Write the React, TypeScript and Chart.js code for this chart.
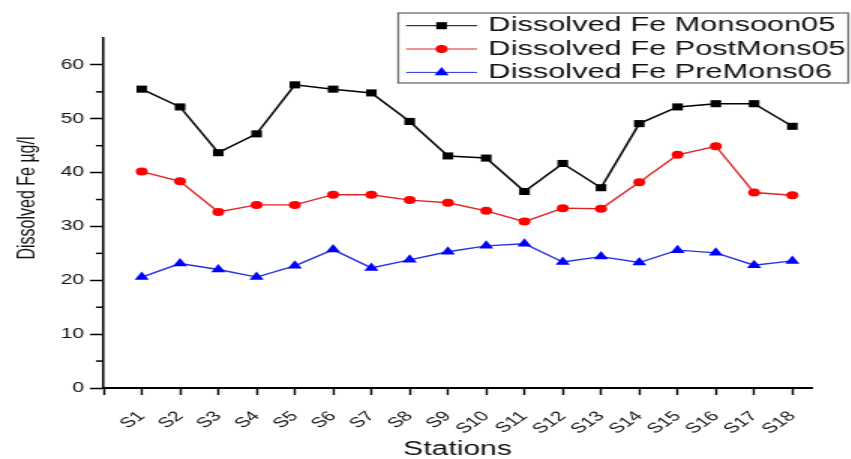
import React, { useEffect, useRef } from 'react';
import { Chart, registerables } from 'chart.js';

Chart.register(...registerables);

const stations = ['S1', 'S2', 'S3', 'S4', 'S5', 'S6', 'S7', 'S8', 'S9', 'S10', 'S11', 'S12', 'S13', 'S14', 'S15', 'S16', 'S17', 'S18'];
const monsoon05 = [55.5, 52.2, 43.7, 47.2, 56.3, 55.5, 54.8, 49.5, 43.1, 42.7, 36.5, 41.7, 37.2, 49.1, 52.2, 52.8, 52.8, 48.6];
const postMons05 = [40.2, 38.4, 32.7, 34.0, 34.0, 35.9, 35.9, 34.9, 34.4, 32.9, 30.9, 33.4, 33.3, 38.2, 43.3, 44.9, 36.3, 35.8];
const preMons06 = [20.6, 23.1, 22.0, 20.6, 22.7, 25.7, 22.3, 23.8, 25.3, 26.4, 26.8, 23.4, 24.4, 23.3, 25.6, 25.1, 22.8, 23.6];
const yMajorTicks = [0, 10, 20, 30, 40, 50, 60];
const yMinorTicks = [5, 15, 25, 35, 45, 55];
const seriesNames = ['Dissolved Fe Monsoon05', 'Dissolved Fe PostMons05', 'Dissolved Fe PreMons06'];
const yTitle = 'Dissolved Fe µg/l';
const xTitle = 'Stations';

const FONT = '"Liberation Sans", Arial, sans-serif';
const STRETCH = 1.5;
const CW = 567;
const CH = 459;

function drawMarker(ctx: CanvasRenderingContext2D, style: string, x: number, y: number, r: number, color: string) {
  ctx.fillStyle = color;
  ctx.beginPath();
  if (style === 'rect') {
    const s = r * Math.SQRT1_2;
    ctx.rect(x - s, y - s, 2 * s, 2 * s);
  } else if (style === 'circle') {
    ctx.arc(x, y, r, 0, Math.PI * 2);
  } else {
    ctx.moveTo(x, y - r);
    ctx.lineTo(x + r * Math.sin(Math.PI * 2 / 3), y - r * Math.cos(Math.PI * 2 / 3));
    ctx.lineTo(x + r * Math.sin(Math.PI * 4 / 3), y - r * Math.cos(Math.PI * 4 / 3));
    ctx.closePath();
  }
  ctx.fill();
}

const extrasPlugin = {
  id: 'extras',
  afterDraw(chart: any) {
    const ctx: CanvasRenderingContext2D = chart.ctx;
    const yScale = chart.scales.y;
    const left = chart.chartArea.left;
    ctx.save();
    // minor ticks on y axis
    ctx.strokeStyle = '#000';
    ctx.lineWidth = 1.5;
    yMinorTicks.forEach((v) => {
      const py = yScale.getPixelForValue(v);
      ctx.beginPath();
      ctx.moveTo(left - 5, py);
      ctx.lineTo(left, py);
      ctx.stroke();
    });
    // y axis title
    ctx.save();
    ctx.translate(18.3, 198);
    ctx.rotate(-Math.PI / 2);
    ctx.fillStyle = '#111';
    ctx.font = `16px ${FONT}`;
    ctx.textAlign = 'center';
    ctx.textBaseline = 'middle';
    ctx.fillText(yTitle, 0, 0);
    ctx.restore();
    // legend box
    const bx = 265.5, by = 13, bw = 300, bh = 70;
    ctx.fillStyle = '#fff';
    ctx.fillRect(bx, by, bw, bh);
    ctx.strokeStyle = '#6e6e6e';
    ctx.lineWidth = 1.3;
    ctx.strokeRect(bx, by, bw, bh);
    const rowsY = [25.7, 49, 72.4];
    chart.data.datasets.forEach((ds: any, i: number) => {
      const y = rowsY[i];
      ctx.strokeStyle = ds.borderColor;
      ctx.lineWidth = 1;
      ctx.beginPath();
      ctx.moveTo(270.7, y);
      ctx.lineTo(318, y);
      ctx.stroke();
      drawMarker(ctx, ds.pointStyle, 294.4, y, ds.pointRadius, ds.pointBackgroundColor);
      ctx.fillStyle = '#111';
      ctx.font = `20.5px ${FONT}`;
      ctx.textBaseline = 'middle';
      ctx.textAlign = 'left';
      ctx.fillText(seriesNames[i], 325.6, y);
    });
    ctx.restore();
  },
};

export default function App() {
  const ref = useRef<HTMLCanvasElement>(null);

  useEffect(() => {
    const canvas = ref.current;
    if (!canvas) return;
    const toPts = (arr: number[]) => arr.map((v, i) => ({ x: i + 1, y: v }));
    const chart = new Chart(canvas, {
      type: 'line',
      data: {
        datasets: [
          {
            label: seriesNames[0],
            data: toPts(monsoon05),
            borderColor: '#000000',
            backgroundColor: '#000000',
            pointBackgroundColor: '#000000',
            pointBorderColor: '#000000',
            pointStyle: 'rect',
            pointRadius: 5,
            pointBorderWidth: 0,
            borderWidth: 1.5,
            tension: 0,
          },
          {
            label: seriesNames[1],
            data: toPts(postMons05),
            borderColor: '#e02424',
            backgroundColor: '#ff0000',
            pointBackgroundColor: '#ff0000',
            pointBorderColor: '#ff0000',
            pointStyle: 'circle',
            pointRadius: 4,
            pointBorderWidth: 0,
            borderWidth: 1.4,
            tension: 0,
          },
          {
            label: seriesNames[2],
            data: toPts(preMons06),
            borderColor: '#2433e0',
            backgroundColor: '#0000ff',
            pointBackgroundColor: '#0000ff',
            pointBorderColor: '#0000ff',
            pointStyle: 'triangle',
            pointRadius: 5.5,
            pointBorderWidth: 0,
            borderWidth: 1.4,
            tension: 0,
          },
        ],
      } as any,
      options: {
        responsive: false,
        animation: false,
        devicePixelRatio: 1,
        layout: { padding: { left: 0, top: 38, right: 26, bottom: 0 } },
        plugins: {
          legend: { display: false },
          tooltip: { enabled: false },
          title: { display: false },
        },
        scales: {
          x: {
            type: 'linear',
            min: 0,
            max: 18.5,
            afterBuildTicks: (scale: any) => {
              scale.ticks = [0, ...stations.map((_, i) => i + 1)].map((v) => ({ value: v }));
            },
            afterFit: (scale: any) => {
              scale.height = 71;
            },
            grid: {
              display: true,
              drawOnChartArea: false,
              drawTicks: true,
              tickLength: 7,
              tickColor: '#000',
              tickWidth: 1.4,
            },
            border: { display: true, color: '#000', width: 2 },
            ticks: {
              autoSkip: false,
              minRotation: 45,
              maxRotation: 45,
              padding: 13,
              color: '#111',
              font: { family: FONT, size: 14 },
              callback: (value: any) => {
                const v = Number(value);
                return v >= 1 && v <= stations.length ? stations[v - 1] : '';
              },
            },
            title: {
              display: true,
              text: xTitle,
              color: '#111',
              font: { family: FONT, size: 20, lineHeight: 1 },
              padding: { top: 0, bottom: 0 },
            },
          },
          y: {
            type: 'linear',
            min: 0,
            max: 65,
            afterBuildTicks: (scale: any) => {
              scale.ticks = yMajorTicks.map((v) => ({ value: v }));
            },
            afterFit: (scale: any) => {
              scale.width = 69;
            },
            grid: {
              display: true,
              drawOnChartArea: false,
              drawTicks: true,
              tickLength: 9,
              tickColor: '#000',
              tickWidth: 1.5,
            },
            border: { display: true, color: '#000', width: 1.5 },
            ticks: {
              padding: 4,
              color: '#111',
              font: { family: FONT, size: 14 },
            },
            title: { display: false },
          },
        },
      } as any,
      plugins: [extrasPlugin],
    });
    return () => chart.destroy();
  }, []);

  return (
    <div style={{ position: 'absolute', left: 0, top: 0, width: 851, height: 459, overflow: 'hidden', background: '#fff' }}>
      <canvas
        ref={ref}
        width={CW}
        height={CH}
        style={{ display: 'block', transform: `scaleX(${STRETCH})`, transformOrigin: '0 0' }}
      />
    </div>
  );
}
